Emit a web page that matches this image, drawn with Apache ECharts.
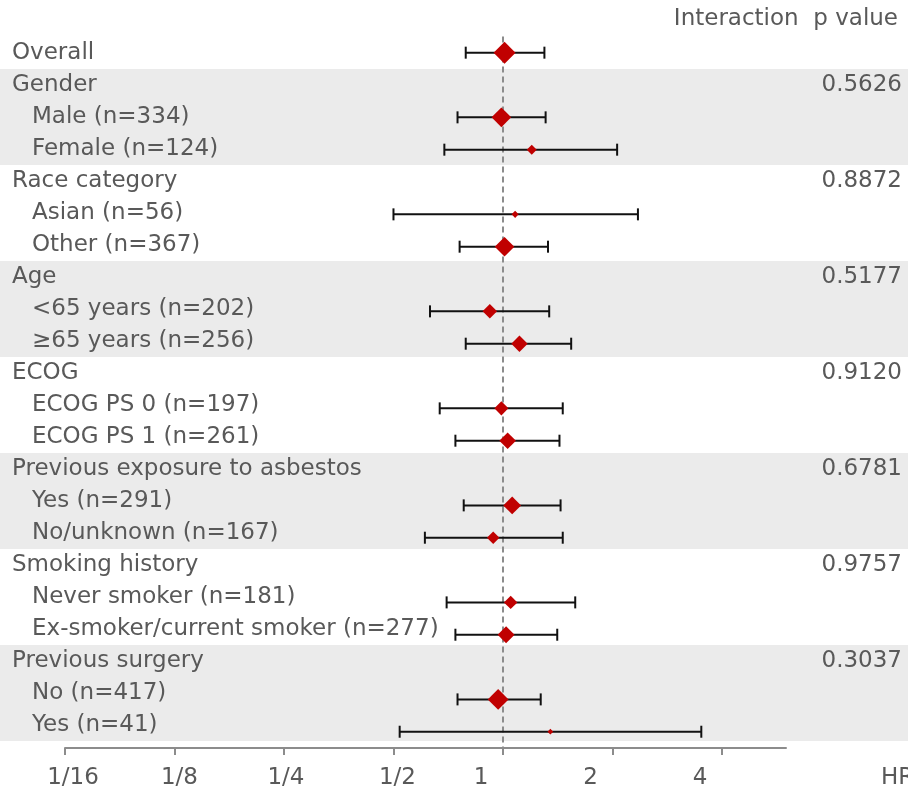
<!DOCTYPE html>
<html>
<head>
<meta charset="utf-8">
<script src="https://cdn.jsdelivr.net/npm/echarts@6/dist/echarts.min.js"></script>
<style>html,body{margin:0;padding:0;background:#fff}#c{width:908px;height:791px}</style>
</head>
<body>
<div id="c"></div>
<script>
// ---------- data ----------
const rowLabels = [
  'Overall',
  'Gender', 'Male (n=334)', 'Female (n=124)',
  'Race category', 'Asian (n=56)', 'Other (n=367)',
  'Age', '<65 years (n=202)', '≥65 years (n=256)',
  'ECOG', 'ECOG PS 0 (n=197)', 'ECOG PS 1 (n=261)',
  'Previous exposure to asbestos', 'Yes (n=291)', 'No/unknown (n=167)',
  'Smoking history', 'Never smoker (n=181)', 'Ex-smoker/current smoker (n=277)',
  'Previous surgery', 'No (n=417)', 'Yes (n=41)'
];
const rowLevel = [0, 0,1,1, 0,1,1, 0,1,1, 0,1,1, 0,1,1, 0,1,1, 0,1,1];
const pValues = ['', '0.5626','','', '0.8872','','', '0.5177','','', '0.9120','','',
                 '0.6781','','', '0.9757','','', '0.3037','',''];
const hrValues = [1.01, null,0.99,1.20, null,1.08,1.01, null,0.92,1.11, null,0.99,1.03,
                  null,1.06,0.94, null,1.05,1.02, null,0.97,1.35];
const ciLower  = [0.79, null,0.75,0.69, null,0.50,0.76, null,0.63,0.79, null,0.67,0.74,
                  null,0.78,0.61, null,0.70,0.74, null,0.75,0.52];
const ciUpper  = [1.30, null,1.31,2.06, null,2.35,1.33, null,1.34,1.54, null,1.46,1.43,
                  null,1.44,1.46, null,1.58,1.41, null,1.27,3.51];
const tickValues = [1/16, 1/8, 1/4, 1/2, 1, 2, 4];
const tickLabels = ['1/16', '1/8', '1/4', '1/2', '1', '2', '4'];
const axisMinHR = 1/16, axisMaxHR = 6;
const headerText = 'Interaction  p value';
const axisTitle = 'HR';

// ---------- styling ----------
const FONT = 'DejaVu Sans';
const TXT = '#595959';
const tickLabelShift = [8, 5, 2, 4, -22, -22, -22];

const cats = rowLabels.map((_, i) => String(i));

// band groups (alternate shading, first group = Overall unshaded)
const groups = [];
rowLevel.forEach((lv, i) => {
  if (lv === 0) groups.push([i, i]); else groups[groups.length - 1][1] = i;
});
const bandData = groups.filter((_, gi) => gi % 2 === 1);

const scatterData = [], ciData = [];
hrValues.forEach((v, i) => {
  if (v == null) return;
  const w = Math.log2(ciUpper[i] / ciLower[i]);
  scatterData.push({ value: [Math.log2(v), i], symbolSize: 15.8 / w });
  ciData.push([Math.log2(ciLower[i]), Math.log2(ciUpper[i]), i]);
});

const tickPos = tickValues.map(v => Math.log2(v));
const rich = {};
tickLabelShift.forEach((d, i) => {
  rich['t' + i] = {
    fontFamily: FONT, fontSize: 23, color: TXT,
    padding: d >= 0 ? [0, 0, 0, 2 * d] : [0, -2 * d, 0, 0]
  };
});

const chart = echarts.init(document.getElementById('c'), null, { renderer: 'canvas' });
chart.setOption({
  animation: false,
  backgroundColor: '#fff',
  textStyle: { fontFamily: FONT },
  grid: [
    { left: 65, right: 122, top: 36.5, height: 711.4, containLabel: false, outerBoundsMode: 'none' },
    { left: 0, right: 0, top: 37, height: 704, containLabel: false, outerBoundsMode: 'none' }
  ],
  xAxis: [
    {
      gridIndex: 0, type: 'value',
      min: Math.log2(axisMinHR), max: Math.log2(axisMaxHR),
      axisLine: { show: true, lineStyle: { color: '#8c8c8c', width: 2 } },
      axisTick: { show: true, length: 7, lineStyle: { color: '#8c8c8c', width: 2 }, customValues: tickPos },
      splitLine: { show: false },
      axisLabel: {
        customValues: tickPos, margin: 19,
        fontFamily: FONT, fontSize: 23, color: TXT,
        formatter: function (val) {
          const i = tickPos.findIndex(p => Math.abs(p - val) < 1e-6);
          return i < 0 ? '' : '{t' + i + '|' + tickLabels[i] + '}';
        },
        rich: rich
      }
    },
    { gridIndex: 1, type: 'value', min: 0, max: 1, show: false }
  ],
  yAxis: [
    { gridIndex: 0, type: 'category', data: cats, inverse: true, show: false },
    {
      gridIndex: 1, type: 'category', data: rowLabels, inverse: true, position: 'left',
      axisLine: { show: false }, axisTick: { show: false }, splitLine: { show: false },
      axisLabel: {
        inside: true, margin: 12, interval: 0,
        formatter: function (val, idx) {
          return rowLevel[idx] ? '{s|' + val + '}' : '{h|' + val + '}';
        },
        rich: {
          h: { fontFamily: FONT, fontSize: 23, color: TXT },
          s: { fontFamily: FONT, fontSize: 23, color: TXT, padding: [0, 0, 0, 20] }
        }
      }
    },
    {
      gridIndex: 1, type: 'category', data: pValues, inverse: true, position: 'right',
      axisLine: { show: false }, axisTick: { show: false }, splitLine: { show: false },
      axisLabel: { inside: true, margin: 6, interval: 0, fontFamily: FONT, fontSize: 23, color: TXT }
    }
  ],
  graphic: [
    { type: 'text', right: 10, top: 8,
      style: { text: headerText, font: '23px "DejaVu Sans"', fill: TXT } },
    { type: 'text', left: 881, top: 767,
      style: { text: axisTitle, font: '23px "DejaVu Sans"', fill: TXT } }
  ],
  series: [
    {
      type: 'custom', xAxisIndex: 1, yAxisIndex: 1, z: -1, silent: true,
      data: bandData,
      encode: { y: [0, 1] },
      renderItem: function (params, api) {
        const h = api.size([0, 1])[1];
        const y0 = api.coord([0, api.value(0)])[1] - h / 2;
        const y1 = api.coord([0, api.value(1)])[1] + h / 2;
        return { type: 'rect', shape: { x: 0, y: y0, width: api.getWidth(), height: y1 - y0 },
                 style: { fill: '#ebebeb' } };
      }
    },
    {
      type: 'custom', xAxisIndex: 0, yAxisIndex: 0, z: 3, silent: true,
      data: ciData,
      encode: { x: [0, 1], y: 2 },
      renderItem: function (params, api) {
        const r = api.value(2);
        const p1 = api.coord([api.value(0), r]);
        const p2 = api.coord([api.value(1), r]);
        const cap = 6;
        const st = { stroke: '#111', lineWidth: 2 };
        return { type: 'group', children: [
          { type: 'line', shape: { x1: p1[0], y1: p1[1], x2: p2[0], y2: p2[1] }, style: st },
          { type: 'line', shape: { x1: p1[0], y1: p1[1] - cap, x2: p1[0], y2: p1[1] + cap }, style: st },
          { type: 'line', shape: { x1: p2[0], y1: p2[1] - cap, x2: p2[0], y2: p2[1] + cap }, style: st }
        ] };
      }
    },
    {
      type: 'scatter', xAxisIndex: 0, yAxisIndex: 0, z: 4, silent: true,
      symbol: 'diamond',
      itemStyle: { color: '#c00000', opacity: 1 },
      data: scatterData,
      markLine: {
        silent: true, symbol: 'none', label: { show: false }, z: 2,
        lineStyle: { type: [6, 4], color: '#8c8c8c', width: 2 },
        data: [{ xAxis: 0 }]
      }
    }
  ]
});
</script>
</body>
</html>
